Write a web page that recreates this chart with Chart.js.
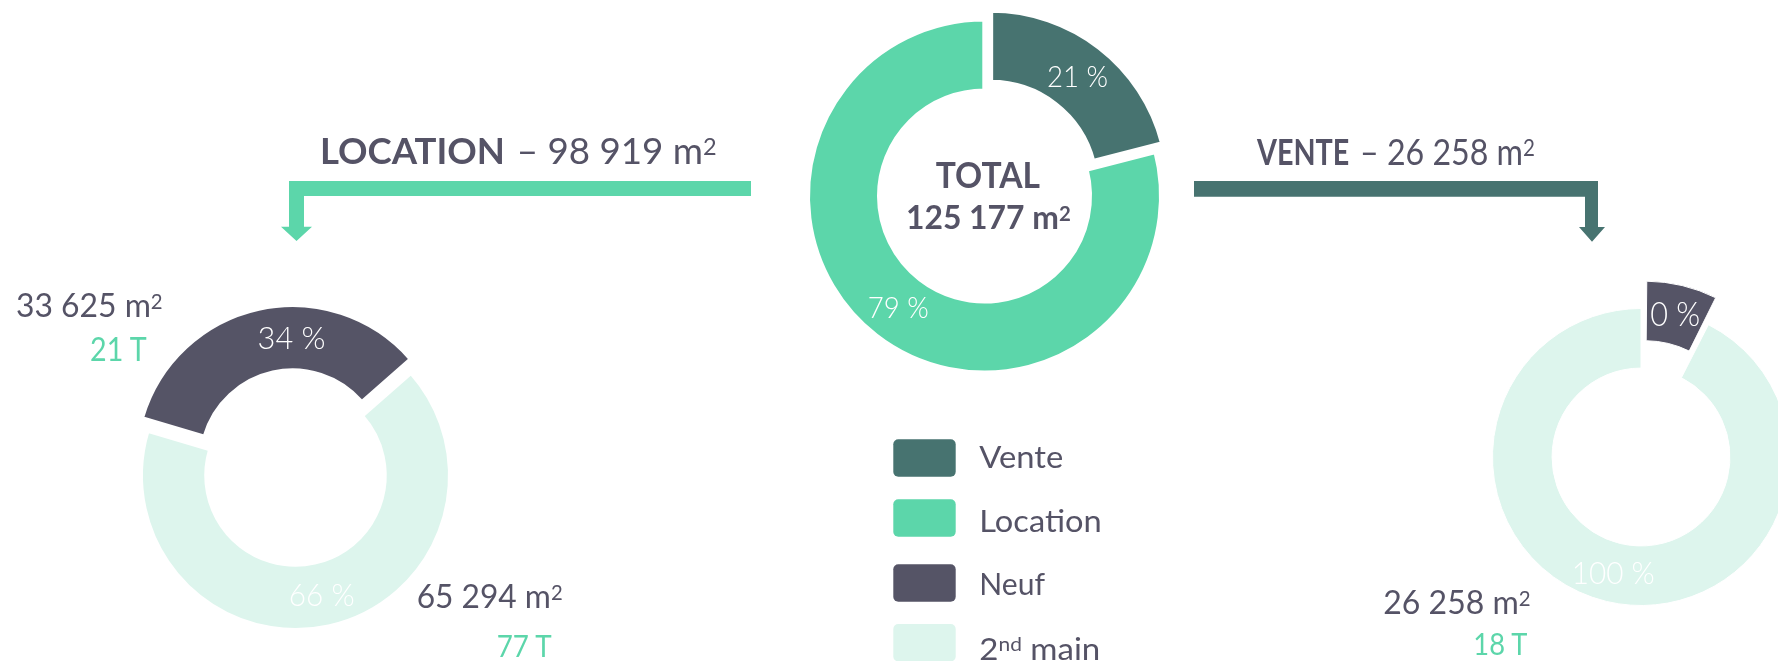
<!DOCTYPE html>
<html>
<head>
<meta charset="utf-8">
<script src="https://cdn.jsdelivr.net/npm/chart.js@4.4.0/dist/chart.umd.min.js"></script>
<style>
html,body{margin:0;padding:0;background:#fff;}
body{width:1778px;height:661px;overflow:hidden;position:relative;font-family:Lato,"Open Sans",sans-serif;}
canvas{position:absolute;}
svg{position:absolute;left:0;top:0;pointer-events:none;}
</style>
</head>
<body>
<canvas id="cTotal" width="401" height="400" style="left:784px;top:-4px;width:401px;height:400px"></canvas>
<canvas id="cLoc" width="361" height="361" style="left:115px;top:295px;width:361px;height:361px"></canvas>
<canvas id="cVente" width="360" height="360" style="left:1461px;top:277px;width:360px;height:360px"></canvas>
<svg id="overlay" width="1778" height="661" xmlns="http://www.w3.org/2000/svg"></svg>
<script>
// ---- data ----
const totalLabels = ['Vente', 'Location'];
const totalValues = [26258, 98919];
const totalPctLabels = ['21 %', '79 %'];

const locationLabels = ['Neuf', '2nd main'];
const locationValues = [33625, 65294];
const locationPctLabels = ['34 %', '66 %'];

const venteLabels = ['Neuf', '2nd main'];
const venteShares = [7.5, 92.5];          // wedge sizes as drawn in the picture
const ventePctLabels = ['0 %', '100 %'];

const legendLabels = ['Vente', 'Location', 'Neuf', '2nd main'];

// ---- styles ----
const C_VENTE = '#477370', C_LOC = '#5CD6AA', C_NEUF = '#555466', C_2ND = '#DDF5ED';
const C_TEXT = '#555366';
const FONT = 'Lato, "Open Sans", sans-serif';

const sliceLabels = {
  id: 'sliceLabels',
  afterDatasetsDraw(chart, args, opts) {
    const ctx = chart.ctx;
    const meta = chart.getDatasetMeta(0);
    meta.data.forEach((arc, i) => {
      const p = arc.getProps(['x','y','startAngle','endAngle','innerRadius','outerRadius','circumference'], true);
      const t = (arc.options.offset || 0) / 4;
      const fix = 1 - Math.sin(Math.min(Math.PI, p.circumference || 0));
      const mid = (p.startAngle + p.endAngle) / 2;
      const la = mid + ((opts.nudge && opts.nudge[i]) || 0) * Math.PI / 180;
      const r = (p.innerRadius + p.outerRadius) / 2 + t * fix;
      const x = p.x + Math.cos(mid) * t + Math.cos(la) * r;
      const y = p.y + Math.sin(mid) * t + Math.sin(la) * r;
      const fs = opts.sizes[i];
      ctx.save();
      ctx.font = '300 ' + fs + 'px ' + FONT;
      ctx.fillStyle = '#ffffff';
      ctx.textAlign = 'center';
      ctx.textBaseline = 'alphabetic';
      const w = ctx.measureText(opts.texts[i]).width;
      const sx = opts.widths ? opts.widths[i] / w : 1;
      ctx.translate(x, y + fs * 0.717 / 2);
      ctx.scale(sx, 1);
      ctx.fillText(opts.texts[i], 0, 0);
      ctx.restore();
    });
  }
};

function donut(id, labels, values, colors, o) {
  return new Chart(document.getElementById(id), {
    type: 'doughnut',
    data: { labels, datasets: [{ data: values, backgroundColor: colors, borderColor: '#ffffff',
      borderWidth: o.border, offset: o.offsets, hoverOffset: 0 }] },
    options: {
      responsive: false, maintainAspectRatio: false, animation: false, events: [],
      radius: o.radius, cutout: o.cutout, rotation: o.rotation,
      layout: { padding: 0 },
      plugins: { legend: { display: false }, tooltip: { enabled: false },
        sliceLabels: { texts: o.texts, sizes: o.sizes, nudge: o.nudge, widths: o.widths } }
    },
    plugins: [sliceLabels]
  });
}

donut('cTotal', totalLabels, totalValues, [C_VENTE, C_LOC],
  { border: 4.4, offsets: [42, 0], radius: 176.7, cutout: '59.6%', rotation: 0,
    texts: totalPctLabels, sizes: [30, 30], nudge: [0, 0], widths: [61, 61] });
donut('cLoc', locationLabels, locationValues, [C_NEUF, C_2ND],
  { border: 2, offsets: [56, 0], radius: 153.5, cutout: '58.8%', rotation: -73.6,
    texts: locationPctLabels, sizes: [32, 32], nudge: [12, 0], widths: [68, 65.7] });
donut('cVente', venteLabels, venteShares, [C_NEUF, C_2ND],
  { border: 1, offsets: [72, 0], radius: 148.5, cutout: '59.9%', rotation: 0,
    texts: ventePctLabels, sizes: [33, 32], nudge: [0, 0], widths: [50, 83] });

// ---- overlay: arrows, texts, legend ----
const NS = 'http://www.w3.org/2000/svg';
const svg = document.getElementById('overlay');
function el(tag, attrs, parent) {
  const e = document.createElementNS(NS, tag);
  for (const k in attrs) e.setAttribute(k, attrs[k]);
  (parent || svg).appendChild(e);
  return e;
}
// arrows
el('polygon', { fill: C_LOC, points: '751,181 289,181 289,226.7 281,226.7 296.5,241 312,226.7 304,226.7 304,196 751,196' });
el('polygon', { fill: C_VENTE, points: '1194,181 1598,181 1598,227 1605,227 1592,241.7 1579,227 1585,227 1585,196.7 1194,196.7' });

function text(x, y, parts, o) {
  const t = el('text', { x, y, 'font-size': o.size, 'font-weight': o.weight || 400, fill: o.color || C_TEXT,
    'font-family': FONT });
  if (o.len) { t.setAttribute('textLength', o.len); t.setAttribute('lengthAdjust', 'spacingAndGlyphs'); }
  let raised = false;
  parts.forEach(p => {
    const s = document.createElementNS(NS, 'tspan');
    if (p.sup) {
      s.setAttribute('font-size', o.size * 0.64);
      s.setAttribute('dy', -o.size * 0.25);
      raised = true;
    } else if (raised) {
      s.setAttribute('dy', o.size * 0.25);
      raised = false;
    }
    s.textContent = p.t;
    t.appendChild(s);
  });
  return t;
}
// titles
text(320, 164.3, [{ t: 'LOCATION' }], { size: 36.7, weight: 700, len: 185 });
text(516.7, 164.3, [{ t: '– 98 919 m' }, { t: '2', sup: true }], { size: 36.7, len: 200 });
text(1257, 165, [{ t: 'VENTE' }], { size: 36.3, weight: 700, len: 92.3 });
text(1360, 165, [{ t: '– 26 258 m' }, { t: '2', sup: true }], { size: 36.3, len: 175 });
// total
text(935.7, 187.7, [{ t: 'TOTAL' }], { size: 36.3, weight: 700, len: 104.3 });
text(906, 229.3, [{ t: '125 177 m' }, { t: '2', sup: true }], { size: 32.5, weight: 700, len: 164.7 });
// location side values
text(16, 317.3, [{ t: '33 625 m' }, { t: '2', sup: true }], { size: 33.5, len: 146.7 });
text(90, 360.7, [{ t: '21 T' }], { size: 32, color: C_LOC, len: 56.7 });
text(416.7, 608.3, [{ t: '65 294 m' }, { t: '2', sup: true }], { size: 32.5, len: 146 });
text(496.7, 657.3, [{ t: '77 T' }], { size: 31, color: C_LOC, len: 55 });
// vente side values
text(1383.3, 614, [{ t: '26 258 m' }, { t: '2', sup: true }], { size: 33.5, len: 147.4 });
text(1473.3, 655, [{ t: '18 T' }], { size: 31, color: C_LOC, len: 54 });

// legend
const legendColors = [C_VENTE, C_LOC, C_NEUF, C_2ND];
const legendTops = [439.3, 499.3, 564.3, 624];
const legendBase = [468.3, 532.3, 595, 660];
const legendLens = [84, 122.4, 65.7, 121];
legendLabels.forEach((lab, i) => {
  el('rect', { x: 893.3, y: legendTops[i], width: 62.4, height: 37.4, rx: 5, ry: 5, fill: legendColors[i] });
  if (lab === '2nd main') {
    const t = el('text', { x: 979.3, y: legendBase[i], 'font-size': 30, 'font-weight': 400, fill: C_TEXT,
      'font-family': FONT, textLength: legendLens[i], lengthAdjust: 'spacingAndGlyphs' });
    const a = document.createElementNS(NS, 'tspan'); a.textContent = '2'; t.appendChild(a);
    const b = document.createElementNS(NS, 'tspan'); b.textContent = 'nd'; b.setAttribute('font-size', 19);
    b.setAttribute('dy', -9); t.appendChild(b);
    const c = document.createElementNS(NS, 'tspan'); c.textContent = ' main'; c.setAttribute('dy', 9); t.appendChild(c);
  } else {
    text(979.3, legendBase[i], [{ t: lab }], { size: 30, len: legendLens[i] });
  }
});
</script>
</body>
</html>
